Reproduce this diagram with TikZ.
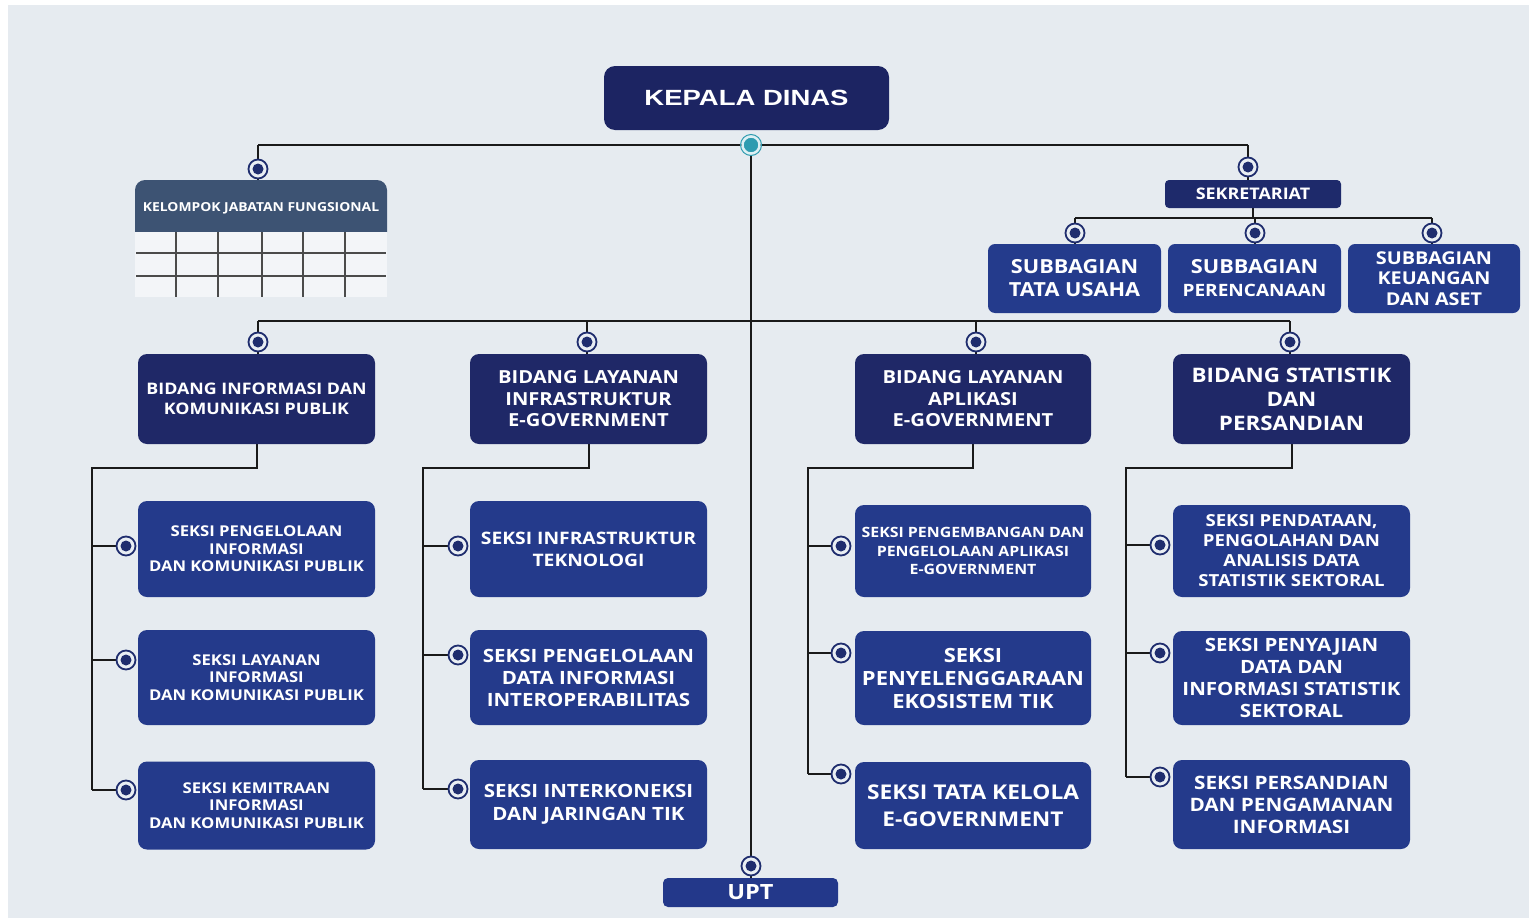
\documentclass[tikz,border=0pt]{standalone}
\usepackage{fontspec}
\setmainfont{Open Sans}[FakeStretch=1.12]
\newfontfamily\headfont{Liberation Sans}[FakeStretch=1.25]
\newcommand\fsz[2]{\fontsize{#1}{#2}\selectfont}
\definecolor{pagebg}{HTML}{E6EBF0}
\definecolor{kdc}{HTML}{1C2462}
\definecolor{bidc}{HTML}{1F2867}
\definecolor{seksic}{HTML}{243A8B}
\definecolor{sekc}{HTML}{1E2A6B}
\definecolor{sbc}{HTML}{243B8C}
\definecolor{uptc}{HTML}{23388A}
\definecolor{slate}{HTML}{3D5373}
\definecolor{tablec}{HTML}{F3F5F8}
\definecolor{gridc}{HTML}{4B4B4B}
\definecolor{navy}{HTML}{1F2D6E}
\definecolor{ringfill}{HTML}{E9EEF3}
\definecolor{wirec}{HTML}{1A1A1A}
\definecolor{hubc}{HTML}{2E9CB0}
\definecolor{hubring}{HTML}{DDF0F4}
\pgfdeclarelayer{back}
\pgfdeclarelayer{wires}
\pgfsetlayers{back,wires,main}
\begin{document}
\begin{tikzpicture}[x=1pt,y=-1pt,
  wire/.style={draw=wirec, line width=2},
  orgbox/.style={rectangle, rounded corners=9, fill=#1, text=white, align=center, inner sep=0, font=\bfseries},
  orgbox/.default=seksic,
  ring/.style={circle, draw=navy, line width=1.8, fill=ringfill, minimum size=19, inner sep=0,
    path picture={\fill[navy] (path picture bounding box.center) circle[radius=5.5pt];}},
  hubdot/.style={circle, draw=hubring, line width=2.4, fill=hubc, minimum size=17, inner sep=0},
  gridline/.style={draw=gridc, line width=2.4}]

% page and background
\useasboundingbox (0,0) rectangle (1529,918);
\begin{pgfonlayer}{back}
  \fill[white] (0,0) rectangle (1529,918);
  \fill[pagebg] (8,5) rectangle (1529,918);
\end{pgfonlayer}

% head
\node[orgbox=kdc, minimum width=285, minimum height=64, rounded corners=11,
  font=\headfont\bfseries\fsz{22}{26}] (kd) at (746.5,98) {KEPALA DINAS};
\node[hubdot] (hub) at (751,145) {};
\draw[hubc, line width=1] (hub.center) circle[radius=10.5pt];

% functional group panel
\fill[slate] (135,232) [rounded corners=10] -- (135,180) -- (387,180) [sharp corners] -- (387,232) -- cycle;
\fill[tablec] (135,232) rectangle (387,297);
\foreach \yy in {253,276} \draw[gridline] (136,\yy) -- (386,\yy);
\foreach \xx in {176,218,262,303,345} \draw[gridline] (\xx,232) -- (\xx,297);
\node[text=white, font=\bfseries\fsz{12.4}{14}, minimum width=252, minimum height=50, inner sep=0]
  (kjf) at (261,208) {KELOMPOK JABATAN FUNGSIONAL};
\node[ring] (ckjf) at (258,169) {};

% secretariat
\node[ring] (csek) at (1248,167) {};
\node[orgbox=sekc, minimum width=176, minimum height=28, rounded corners=4,
  font=\bfseries\fsz{16}{18}] (sek) at (1253,194) {SEKRETARIAT};
\node[orgbox=sbc, minimum width=173, minimum height=69, rounded corners=7,
  font=\bfseries\fsz{19.4}{23}] (sb1) at (1074.5,278.5) {SUBBAGIAN\\TATA USAHA};
\node[orgbox=sbc, minimum width=173, minimum height=69, rounded corners=7,
  font=\bfseries\fsz{19.4}{23}] (sb2) at (1254.5,278.5) {SUBBAGIAN\\{\fsz{17}{23}PERENCANAAN}};
\node[orgbox=sbc, minimum width=172, minimum height=69, rounded corners=7,
  font=\bfseries\fsz{17.7}{20.5}] (sb3) at (1434,278.5) {SUBBAGIAN\\KEUANGAN\\DAN ASET};
\node[ring] (csb1) at (1075,233) {};
\node[ring] (csb2) at (1255,233) {};
\node[ring] (csb3) at (1432,233) {};

% fields
\node[orgbox=bidc, minimum width=237, minimum height=90, font=\bfseries\fsz{15.9}{20}]
  (b1) at (256.5,399) {BIDANG INFORMASI DAN\\KOMUNIKASI PUBLIK};
\node[orgbox=bidc, minimum width=237, minimum height=90, font=\bfseries\fsz{18}{21.5}]
  (b2) at (588.5,399) {BIDANG LAYANAN\\INFRASTRUKTUR\\E-GOVERNMENT};
\node[orgbox=bidc, minimum width=236, minimum height=90, font=\bfseries\fsz{18}{21.5}]
  (b3) at (973,399) {BIDANG LAYANAN\\APLIKASI\\E-GOVERNMENT};
\node[orgbox=bidc, minimum width=237, minimum height=90, font=\bfseries\fsz{20}{24}]
  (b4) at (1291.5,399) {BIDANG STATISTIK\\DAN\\PERSANDIAN};
\node[ring] (cb1) at (258,342) {};
\node[ring] (cb2) at (587,342) {};
\node[ring] (cb3) at (976,342) {};
\node[ring] (cb4) at (1290,342) {};

% sections, column 1
\node[orgbox, minimum width=237, minimum height=96, font=\bfseries\fsz{14.9}{17.5}]
  (s11) at (256.5,549) {SEKSI PENGELOLAAN\\INFORMASI\\DAN KOMUNIKASI PUBLIK};
\node[orgbox, minimum width=237, minimum height=95, font=\bfseries\fsz{14.9}{17.5}]
  (s12) at (256.5,677.5) {SEKSI LAYANAN\\INFORMASI\\DAN KOMUNIKASI PUBLIK};
\node[orgbox, minimum width=237, minimum height=88, font=\bfseries\fsz{14.9}{17.5}]
  (s13) at (256.5,805.5) {SEKSI KEMITRAAN\\INFORMASI\\DAN KOMUNIKASI PUBLIK};
\node[ring] (c11) at (126,546) {};
\node[ring] (c12) at (126,660) {};
\node[ring] (c13) at (126,790) {};

% sections, column 2
\node[orgbox, minimum width=237, minimum height=96, font=\bfseries\fsz{17.2}{22}]
  (s21) at (588.5,549) {SEKSI INFRASTRUKTUR\\TEKNOLOGI};
\node[orgbox, minimum width=237, minimum height=95, font=\bfseries\fsz{18.3}{22}]
  (s22) at (588.5,677.5) {SEKSI PENGELOLAAN\\DATA INFORMASI\\INTEROPERABILITAS};
\node[orgbox, minimum width=237, minimum height=89, font=\bfseries\fsz{18.3}{23}]
  (s23) at (588.5,804.5) {SEKSI INTERKONEKSI\\DAN JARINGAN TIK};
\node[ring] (c21) at (458,546) {};
\node[ring] (c22) at (458,655) {};
\node[ring] (c23) at (458,789) {};

% sections, column 3
\node[orgbox, minimum width=236, minimum height=92, font=\bfseries\fsz{14.2}{18.5}]
  (s31) at (973,551) {SEKSI PENGEMBANGAN DAN\\PENGELOLAAN APLIKASI\\E-GOVERNMENT};
\node[orgbox, minimum width=236, minimum height=94, font=\bfseries\fsz{19.6}{23}]
  (s32) at (973,678) {SEKSI\\PENYELENGGARAAN\\EKOSISTEM TIK};
\node[orgbox, minimum width=236, minimum height=87, font=\bfseries\fsz{20.3}{27}]
  (s33) at (973,805.5) {SEKSI TATA KELOLA\\E-GOVERNMENT};
\node[ring] (c31) at (841,546) {};
\node[ring] (c32) at (841,653) {};
\node[ring] (c33) at (841,774) {};

% sections, column 4
\node[orgbox, minimum width=237, minimum height=92, font=\bfseries\fsz{16.6}{20}]
  (s41) at (1291.5,551) {SEKSI PENDATAAN,\\PENGOLAHAN DAN\\ANALISIS DATA\\STATISTIK SEKTORAL};
\node[orgbox, minimum width=237, minimum height=94, font=\bfseries\fsz{18.3}{21.7}]
  (s42) at (1291.5,678) {SEKSI PENYAJIAN\\DATA DAN\\INFORMASI STATISTIK\\SEKTORAL};
\node[orgbox, minimum width=237, minimum height=89, font=\bfseries\fsz{18.5}{22}]
  (s43) at (1291.5,804.5) {SEKSI PERSANDIAN\\DAN PENGAMANAN\\INFORMASI};
\node[ring] (c41) at (1160,545) {};
\node[ring] (c42) at (1160,653) {};
\node[ring] (c43) at (1160,777) {};

% technical unit
\node[ring] (cupt) at (751,866) {};
\node[orgbox=uptc, minimum width=175, minimum height=29, rounded corners=5,
  font=\bfseries\fsz{21}{24}] (upt) at (750.5,892.5) {UPT};

% junction points of the connector lines
\coordinate (jl) at (258,145);
\coordinate (jr) at (1248,145);
\coordinate (sekj) at (1253,218);
\coordinate (bl) at (258,321);
\coordinate (br) at (1290,321);
\coordinate (t1) at (92,468);
\coordinate (t2) at (423,468);
\coordinate (t3) at (808,468);
\coordinate (t4) at (1126,468);

\begin{pgfonlayer}{wires}
  % top level
  \draw[wire] (jl) -- (jr);
  \draw[wire] (hub) -- (cupt);
  \draw[wire] (cupt) -- (cupt |- upt.north);
  \draw[wire] (jl) -- (ckjf) -- (ckjf |- kjf.north);
  \draw[wire] (jr) -- (csek) -- (csek |- sek.north);
  % secretariat subdivisions
  \draw[wire] (sek.south) -- (sekj);
  \draw[wire] (csb1 |- sekj) -- (csb3 |- sekj);
  \foreach \k in {1,2,3}
    \draw[wire] (csb\k |- sekj) -- (csb\k) -- (csb\k |- sb\k.north);
  % fields
  \draw[wire] (bl) -- (br);
  \foreach \k in {1,2,3,4}
    \draw[wire] (cb\k |- bl) -- (cb\k) -- (cb\k |- b\k.north);
  % sections
  \foreach \k in {1,2,3,4} {
    \draw[wire] (b\k.south) -- (b\k.south |- t\k) -- (t\k) -- (t\k |- c\k3);
    \foreach \j in {1,2,3}
      \draw[wire] (t\k |- c\k\j) -- (c\k\j);
  }
\end{pgfonlayer}
\end{tikzpicture}
\end{document}
